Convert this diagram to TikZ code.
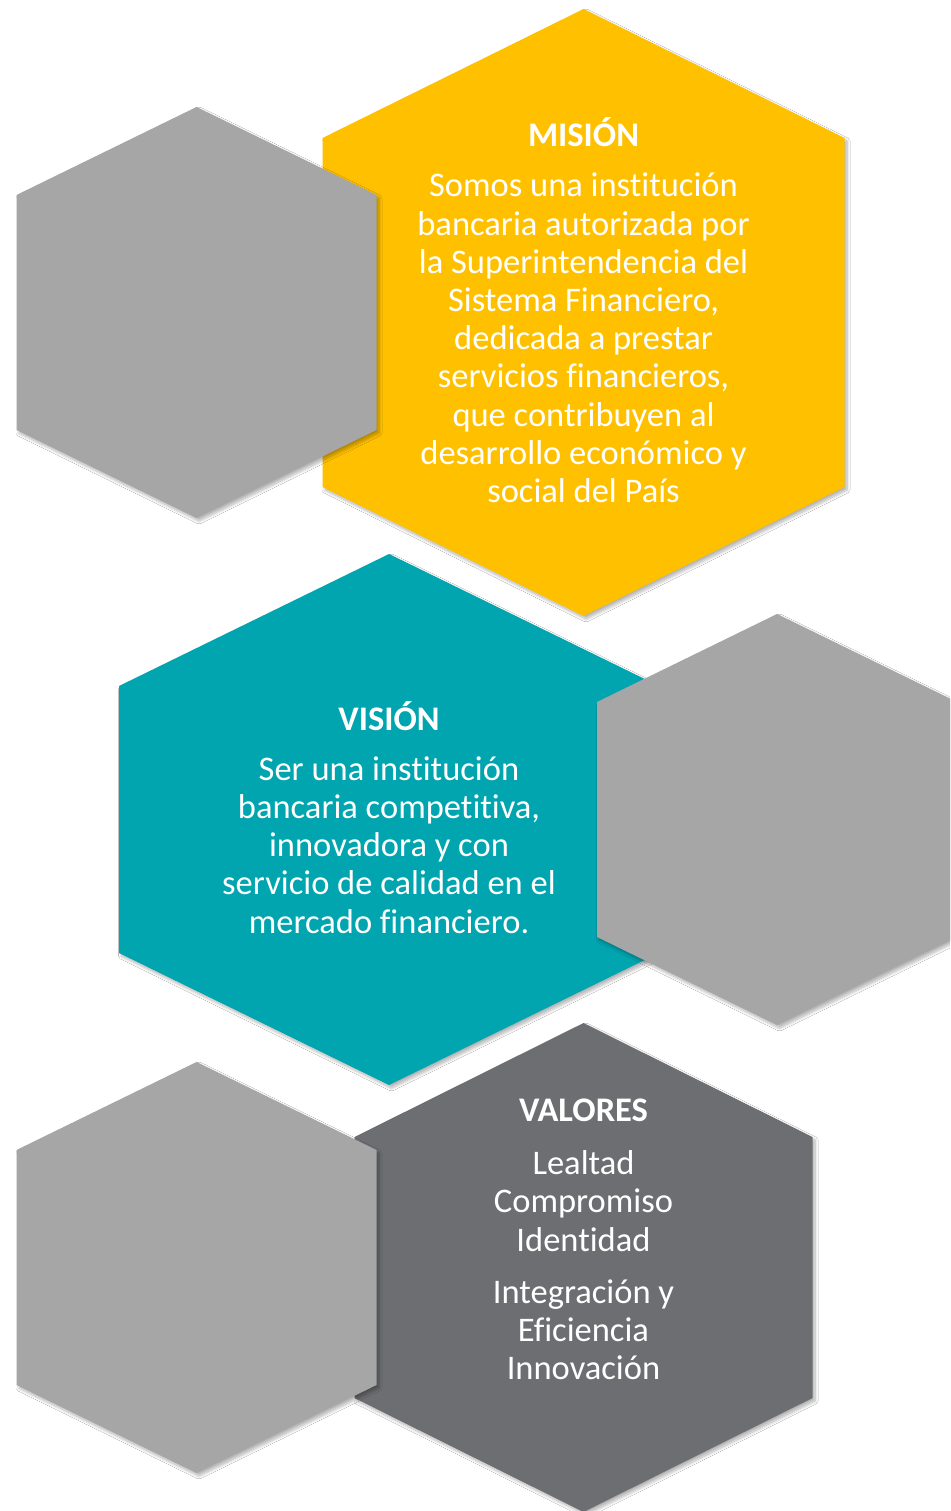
\documentclass[tikz,border=0pt]{standalone}
\usepackage{fontspec}
\setmainfont{Carlito}[Ligatures={NoCommon}]
\usetikzlibrary{shadows.blur}
\definecolor{hexyellow}{HTML}{FFC000}
\definecolor{hexteal}{HTML}{00A5AF}
\definecolor{hexgray}{HTML}{A6A6A6}
\definecolor{hexdark}{HTML}{6D6E71}
\newcommand{\hexpath}[5]{(#1,#2) -- (#1+#3,#2+#4) -- (#1+#3,#5-#4) -- (#1,#5) -- (#1-#3,#5-#4) -- (#1-#3,#2+#4) -- cycle}
\tikzset{
  hexshape/.style={draw=none, blur shadow={shadow xshift=2.5pt, shadow yshift=-3pt, shadow blur radius=3pt, shadow blur steps=8, shadow opacity=30}},
  headtext/.style={text=white, font=\fontsize{34.5}{38}\selectfont\bfseries, inner sep=0pt},
  bodytext/.style={text=white, font=\fontsize{34.5}{38.2}\selectfont, align=center, inner sep=0pt}
}
\begin{document}
\begin{tikzpicture}[x=1pt,y=-1pt]
\useasboundingbox (0,0) rectangle (950,1511);
\clip (0,0) rectangle (950,1511);
\fill[white] (0,0) rectangle (950,1511);
% hexagons, back to front
\fill[hexyellow, hexshape] \hexpath{583.5}{9}{261}{129}{616};
\fill[hexgray, hexshape] \hexpath{196.5}{107}{180}{88}{518};
\fill[hexteal, hexshape] \hexpath{389}{554}{270}{132}{1085};
\fill[hexgray, hexshape] \hexpath{777}{614}{180}{88}{1025};
\fill[hexdark, hexshape] \hexpath{583.5}{1023}{229}{114}{1512};
\fill[hexgray, hexshape] \hexpath{196.5}{1062}{180}{88}{1473};
% texts
\node[headtext] (mision) at (583.5,132) {MISIÓN};
\node[bodytext] (misiontext) at (583.5,338) {Somos una institución\\bancaria autorizada por\\la Superintendencia del\\Sistema Financiero,\\dedicada a prestar\\servicios financieros,\\que contribuyen al\\desarrollo económico y\\social del País};
\node[headtext] (vision) at (389,716) {VISIÓN};
\node[bodytext] (visiontext) at (389,845) {Ser una institución\\bancaria competitiva,\\innovadora y con\\servicio de calidad en el\\mercado financiero.};
\node[headtext] (valores) at (583.5,1110) {VALORES};
\node[bodytext] (valores1) at (583.5,1201) {Lealtad\\Compromiso\\Identidad};
\node[bodytext] (valores2) at (583.5,1330) {Integración y\\Eficiencia\\Innovación};
\end{tikzpicture}
\end{document}
